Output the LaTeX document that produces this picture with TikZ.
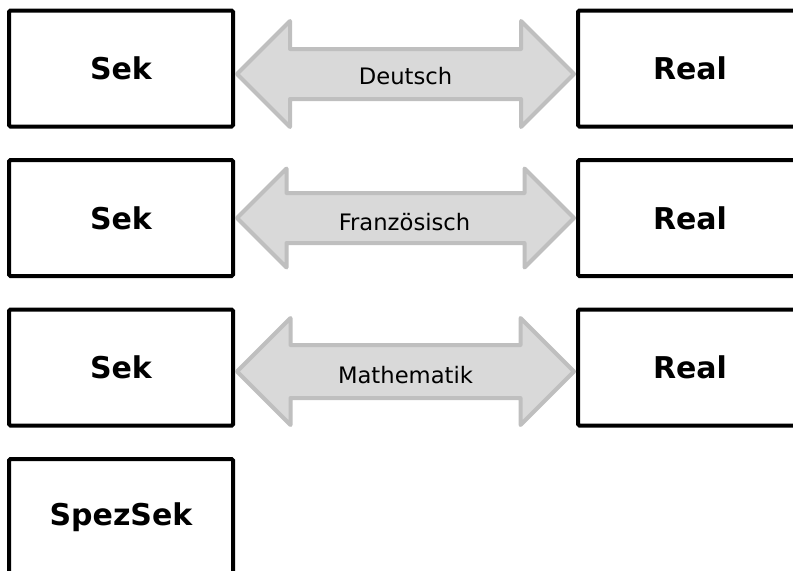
\documentclass[tikz,border=0pt]{standalone}
\usepackage{fontspec}
\setmainfont{DejaVu Sans}
\usetikzlibrary{calc}
\definecolor{arrfill}{HTML}{D9D9D9}
\definecolor{arrline}{HTML}{BFBFBF}
% #1 name, #2 left node, #3 right node, #4 vertical offset, #5 half head height, #6 half shaft height
\newcommand\dblarr[6]{%
  \coordinate (#1l) at ($(#2.east)+(2,#4)$);
  \coordinate (#1r) at ($(#3.west)+(-2,#4)$);
  \coordinate (#1) at ($(#1l)!0.5!(#1r)$);
  \draw[dbl] (#1l) -- ++(#5,-#5) -- ++(0,{#5-#6}) -- ($(#1r)+(-#5,-#6)$)
    -- ++(0,{-(#5-#6)}) -- (#1r) -- ++(-#5,#5) -- ++(0,{-(#5-#6)})
    -- ($(#1l)+(#5,#6)$) -- ++(0,{#5-#6}) -- cycle;
}
\begin{document}
\begin{tikzpicture}[x=0.75pt,y=-0.75pt,
  box/.style={draw=black, line width=3pt, rounded corners=1pt, minimum width=168pt, minimum height=87pt, inner sep=0pt, fill=white, font=\bfseries\fontsize{22.5}{27}\selectfont},
  dbl/.style={draw=arrline, fill=arrfill, line width=3pt, line join=round},
  lbl/.style={font=\fontsize{17}{20}\selectfont, inner sep=0pt}]
\useasboundingbox (0,0) rectangle (793,571);
\clip (0,0) rectangle (793,571);
% boxes
\node[box] (s1) at (121,68.5) {Sek};
\node[box] (r1) at (690,68.5) {Real};
\node[box] (s2) at (121,218) {Sek};
\node[box] (r2) at (690,218) {Real};
\node[box] (s3) at (121,367.5) {Sek};
\node[box] (r3) at (690,367.5) {Real};
\node[box] (s4) at (121,517) {SpezSek};
% double arrows
\dblarr{a1}{s1}{r1}{5.5}{53}{25}
\dblarr{a2}{s2}{r2}{0}{49.5}{25}
\dblarr{a3}{s3}{r3}{4}{53.5}{26.5}
% labels
\node[lbl] (l1) at ($(a1)+(0,2.5)$) {Deutsch};
\node[lbl] (l2) at ($(a2)+(-1,4)$) {Französisch};
\node[lbl] (l3) at ($(a3)+(0,3.5)$) {Mathematik};
\end{tikzpicture}
\end{document}
